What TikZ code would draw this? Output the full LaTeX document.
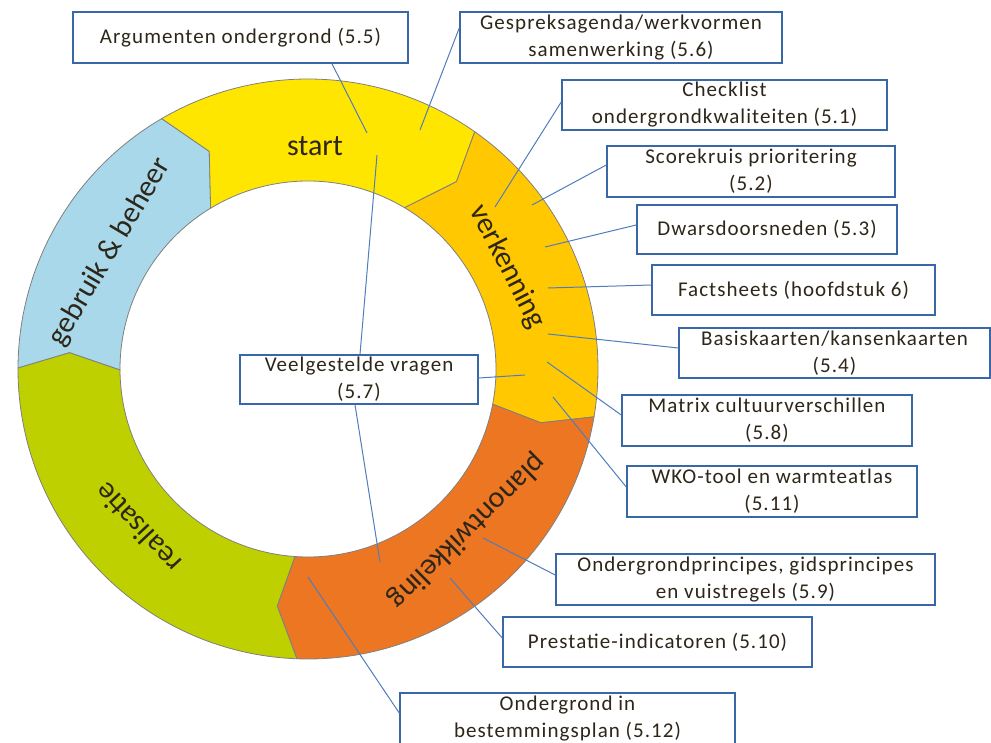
\documentclass[tikz,border=0pt]{standalone}
\usepackage{fontspec}
\setmainfont{Carlito}
\newfontfamily\ringfont{Carlito}
\newfontfamily\boxfont[LetterSpace=5]{Carlito}
\usetikzlibrary{calc}
\definecolor{ringblue}{RGB}{168,216,234}
\definecolor{ringyellow}{RGB}{255,230,0}
\definecolor{ringgold}{RGB}{255,200,0}
\definecolor{ringorange}{RGB}{236,118,34}
\definecolor{ringgreen}{RGB}{190,208,0}
\definecolor{boxblue}{RGB}{58,103,168}
\definecolor{lineblue}{RGB}{80,125,190}
\definecolor{textdark}{RGB}{45,38,25}

% ring piece: colour, angles (outer, kink, inner) of start side, then of end side
\newcommand{\ringpart}[7]{%
  \filldraw[segment, fill=#1] (#2:290) arc[start angle=#2, end angle=#5, radius=290pt]
    -- (#6:239) -- (#7:188) arc[start angle=#7, end angle=#4, radius=188pt]
    -- (#3:239) -- cycle;}

\tikzset{
  infobox/.style={draw=boxblue, line width=1.5pt, fill=white, inner sep=0pt, align=center,
    font=\boxfont\fontsize{21}{27}\selectfont, text=textdark},
  link/.style={draw=lineblue, line width=1pt},
  segment/.style={draw=black!50, line width=0.8pt},
  phase/.style={font=\ringfont\fontsize{30}{32}\selectfont, text=textdark, inner sep=0pt}
}

\begin{document}
\begin{tikzpicture}[x=1pt, y=1pt]
    \useasboundingbox (0,0) rectangle (991,742);
    \clip (0,0) rectangle (991,742);

    % the cycle
    \begin{scope}[shift={(308,373)}]
      \ringpart{ringblue}{179.8}{176.1}{180.3}{120.3}{114.4}{121.2}
      \ringpart{ringyellow}{120.3}{114.4}{121.2}{54.9}{51.6}{59.1}
      \ringpart{ringgold}{54.9}{51.6}{59.1}{-9.5}{-13}{-10.8}
      \ringpart{ringorange}{-9.5}{-13}{-10.8}{-92.2}{-97.4}{-94}
      \ringpart{ringgreen}{-92.2}{-97.4}{-94}{-180.2}{-183.9}{-179.7}
      \node (start) at (88.2:223) [phase] {start};
      \node (verk) at (27.1:224) [phase, rotate=-62.9] {verkenning};
      \node (plan) at (-45.5:227) [phase, rotate=-135.5] {planontwikkeling};
      \node (real) at (-136.9:233) [phase, rotate=-226.9] {realisatie};
      \node (beheer) at (149.4:230) [phase, rotate=59.4] {gebruik \& beheer};
    \end{scope}

    % boxes
    \node (arg) at (240.5,704.5) [infobox, minimum width=335pt, minimum height=51pt] {Argumenten ondergrond (5.5)};
    \node (gesp) at (621,704.5) [infobox, minimum width=322pt, minimum height=51pt] {Gespreksagenda/werkvormen\\samenwerking (5.6)};
    \node (check) at (724.5,637) [infobox, minimum width=325pt, minimum height=50pt] {Checklist\\ondergrondkwaliteiten (5.1)};
    \node (score) at (751,570.5) [infobox, minimum width=288pt, minimum height=51pt] {Scorekruis prioritering\\(5.2)};
    \node (dwars) at (767,512.5) [infobox, minimum width=260pt, minimum height=49pt] {Dwarsdoorsneden (5.3)};
    \node (fact) at (793.5,452) [infobox, minimum width=283pt, minimum height=50pt] {Factsheets (hoofdstuk 6)};
    \node (basis) at (834.5,389) [infobox, minimum width=311pt, minimum height=50pt] {Basiskaarten/kansenkaarten\\(5.4)};
    \node (matrix) at (767,321.5) [infobox, minimum width=290pt, minimum height=51pt] {Matrix cultuurverschillen\\(5.8)};
    \node (wko) at (772,250.5) [infobox, minimum width=290pt, minimum height=51pt] {WKO-tool en warmteatlas\\(5.11)};
    \node (princ) at (745.5,162.5) [infobox, minimum width=379pt, minimum height=51pt] {Ondergrondprincipes, gidsprincipes\\en vuistregels (5.9)};
    \node (prest) at (657.5,100) [infobox, minimum width=309pt, minimum height=50pt] {Prestatie-indicatoren (5.10)};
    \node (bestem) at (567.5,23) [infobox, minimum width=335pt, minimum height=52pt] {Ondergrond in\\bestemmingsplan (5.12)};
    \node (vragen) at (359,362.5) [infobox, minimum width=238pt, minimum height=49pt] {Veelgestelde vragen\\(5.7)};

    % where the links touch the ring
    \coordinate (pArg) at (367,609);
    \coordinate (pGesp) at (420,612);
    \coordinate (pCheck) at (495,535);
    \coordinate (pScore) at (532,537);
    \coordinate (pDwars) at (545,495);
    \coordinate (pFact) at (548,454);
    \coordinate (pBasis) at (548,408);
    \coordinate (pMatrix) at (547,380);
    \coordinate (pWko) at (553,345);
    \coordinate (pPrinc) at (483,204);
    \coordinate (pPrest) at (450,164);
    \coordinate (pBestem) at (308,165);
    \coordinate (pVrVerk) at (525,367);
    \coordinate (pVrStart) at (377,587);
    \coordinate (pVrPlan) at (380,180);

    \draw[link] ([xshift=91.5pt]arg.south) -- (pArg);
    \draw[link] ([yshift=9.5pt]gesp.west) -- (pGesp);
    \draw[link] ([yshift=3pt]check.west) -- (pCheck);
    \draw[link] ([yshift=6.5pt]score.west) -- (pScore);
    \draw[link] ([yshift=4.5pt]dwars.west) -- (pDwars);
    \draw[link] ([yshift=5pt]fact.west) -- (pFact);
    \draw[link] ([yshift=5pt]basis.west) -- (pBasis);
    \draw[link] ([yshift=5.5pt]matrix.west) -- (pMatrix);
    \draw[link] ([yshift=4.5pt]wko.west) -- (pWko);
    \draw[link] ([yshift=4.5pt]princ.west) -- (pPrinc);
    \draw[link] ([yshift=4pt]prest.west) -- (pPrest);
    \draw[link] ([yshift=6pt]bestem.west) -- (pBestem);
    \draw[link] ([yshift=1.5pt]vragen.east) -- (pVrVerk);
    \draw[link] ([xshift=1pt]vragen.north) -- (pVrStart);
    \draw[link] ([xshift=-4pt]vragen.south) -- (pVrPlan);
  \end{tikzpicture}
\end{document}
